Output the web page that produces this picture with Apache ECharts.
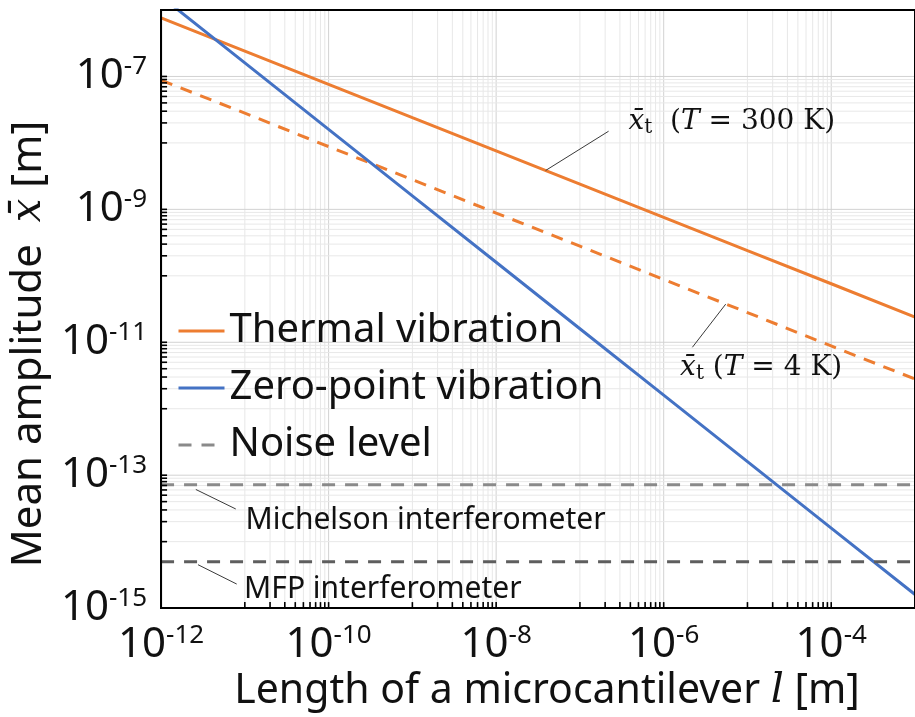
<!DOCTYPE html>
<html>
<head>
<meta charset="utf-8">
<script src="https://cdn.jsdelivr.net/npm/echarts@6/dist/echarts.min.js"></script>
<style>
  html, body { margin: 0; padding: 0; background: #fff; }
  #chart { width: 915px; height: 717px; }
</style>
</head>
<body>
<div id="chart"></div>
<script>
// Cantilever length l [m]
const lengths = [1e-12, 1e-11, 1e-10, 1e-9, 1e-8, 1e-7, 1e-6, 1e-5, 1e-4, 1e-3];
// Thermal vibration amplitude at T = 300 K [m]
const thermal300K = [7.6e-7, 2.4e-7, 7.6e-8, 2.4e-8, 7.6e-9, 2.4e-9, 7.6e-10, 2.4e-10, 7.6e-11, 2.4e-11];
// Thermal vibration amplitude at T = 4 K [m]
const thermal4K = [8.8e-8, 2.8e-8, 8.8e-9, 2.8e-9, 8.8e-10, 2.8e-10, 8.8e-11, 2.8e-11, 8.8e-12, 2.8e-12];
// Zero-point vibration amplitude [m]
const zeroPoint = [1.6e-6, 1.6e-7, 1.6e-8, 1.6e-9, 1.6e-10, 1.6e-11, 1.6e-12, 1.6e-13, 1.6e-14, 1.6e-15];
// Detector noise levels [m]
const noiseNames = ['Michelson interferometer', 'MFP interferometer'];
const noiseLevels = [7.2e-14, 5.0e-15];
const noiseColors = ['#8a8a8a', '#5e5e5e'];

// Axis ranges
const X_MIN = 1e-12, X_MAX = 1e-3;
const Y_MIN = 1e-15, Y_MAX = 1e-6;
// Decades carrying a labelled gridline
const xMajorExponents = [-12, -10, -8, -6, -4];
const yMajorExponents = [-15, -13, -11, -9, -7];

const ORANGE = '#ED7D31';
const BLUE = '#4472C4';
const SANS = '"Noto Sans", "Open Sans", sans-serif';
const SERIF = '"DejaVu Serif", "Liberation Serif", serif';

// Gridline / tick positions: each labelled decade 10^e plus k*10^(e+1), k = 1..9
function gridValues(exps, lo, hi) {
  const out = [];
  exps.forEach(e => {
    out.push({ v: Math.pow(10, e), major: 1 });
    for (let k = 1; k <= 9; k++) out.push({ v: k * Math.pow(10, e + 1), major: 0 });
  });
  return out.filter(d => d.v > lo * 1.0001 && d.v < hi * 0.9999 || (d.major && d.v >= lo && d.v < hi));
}
const xGrid = gridValues(xMajorExponents, X_MIN, X_MAX);
const yGrid = gridValues(yMajorExponents, Y_MIN, Y_MAX);
const gridData = []
  .concat(xGrid.map(d => [d.v, Y_MIN, 0, d.major]))
  .concat(yGrid.map(d => [X_MIN, d.v, 1, d.major]));

function renderGridLine(params, api) {
  const cs = params.coordSys;
  const vertical = api.value(2) === 0;
  const major = api.value(3) === 1;
  let shape;
  if (vertical) {
    const x = api.coord([api.value(0), Y_MIN])[0];
    shape = { x1: x, y1: cs.y, x2: x, y2: cs.y + cs.height };
  } else {
    const y = api.coord([X_MIN, api.value(1)])[1];
    shape = { x1: cs.x, y1: y, x2: cs.x + cs.width, y2: y };
  }
  return { type: 'line', shape, style: { stroke: major ? '#d2d2d2' : '#e8e8e8', lineWidth: 1 } };
}

function renderTick(params, api) {
  const cs = params.coordSys;
  const vertical = api.value(2) === 0;
  let shape;
  if (vertical) {
    const x = api.coord([api.value(0), Y_MIN])[0];
    const yb = cs.y + cs.height;
    shape = { x1: x, y1: yb, x2: x, y2: yb - 6 };
  } else {
    const y = api.coord([X_MIN, api.value(1)])[1];
    shape = { x1: cs.x, y1: y, x2: cs.x + 6, y2: y };
  }
  return { type: 'line', shape, style: { stroke: '#000', lineWidth: 1.6 } };
}

function powLabel(v) {
  const e = Math.round(Math.log10(v));
  return '{b|10}{s|' + e + '}';
}
const tickRich = {
  b: { fontFamily: SANS, fontSize: 42, color: '#111' },
  s: { fontFamily: SANS, fontSize: 26, color: '#111', padding: [0, 0, 20, 0] }
};
const mathRich = {
  x: { fontFamily: SERIF, fontStyle: 'italic', fontSize: 28, color: '#111' },
  t: { fontFamily: SERIF, fontSize: 20, color: '#111', padding: [13, 0, 0, 0] },
  n: { fontFamily: SERIF, fontSize: 28, color: '#111' }
};

const leader = { color: '#3a3a3a', width: 1, type: 'solid' };
function leaderLine(from, to) {
  return {
    silent: true, symbol: ['none', 'none'], label: { show: false },
    lineStyle: leader, emphasis: { disabled: true },
    data: [[{ coord: from }, { coord: to }]]
  };
}
function noteLabel(at, text, rich) {
  return {
    silent: true, symbol: 'circle', symbolSize: 0,
    itemStyle: { color: 'transparent' },
    label: { show: true, position: 'right', distance: 0, formatter: text, rich },
    data: [{ coord: at }]
  };
}
const noiseRich = { a: { fontFamily: SANS, fontSize: 30, color: '#111' } };

const series = [
  {
    name: 'grid', type: 'custom', coordinateSystem: 'cartesian2d', silent: true, z: 1,
    renderItem: renderGridLine, data: gridData, clip: false
  },
  {
    name: 'Thermal vibration', type: 'line', symbol: 'none', z: 2,
    lineStyle: { color: ORANGE, width: 3 }, itemStyle: { color: ORANGE },
    data: lengths.map((l, i) => [l, thermal300K[i]]),
    markLine: leaderLine([3.9e-8, 3.85e-9], [2.2e-7, 1.5e-8]),
    markPoint: noteLabel([3.8e-7, 2.1e-8], '{x|x̄}{t|t}{n|  (}{x|T}{n| = 300 K)}', mathRich)
  },
  {
    name: 'Thermal vibration (4 K)', type: 'line', symbol: 'none', z: 2,
    lineStyle: { color: ORANGE, width: 3, type: [12, 9] }, itemStyle: { color: ORANGE },
    data: lengths.map((l, i) => [l, thermal4K[i]]),
    markLine: leaderLine([5.5e-6, 3.75e-11], [2.2e-6, 8.4e-12]),
    markPoint: noteLabel([1.57e-6, 4.2e-12], '{x|x̄}{t|t}{n| (}{x|T}{n| = 4 K)}', mathRich)
  },
  {
    name: 'Zero-point vibration', type: 'line', symbol: 'none', z: 2,
    lineStyle: { color: BLUE, width: 3 }, itemStyle: { color: BLUE },
    data: lengths.map((l, i) => [l, zeroPoint[i]])
  }
];
const noteAnchors = [
  { from: [2.6e-12, 6.1e-14], to: [7.8e-12, 3.1e-14], at: [1.02e-11, 2.1e-14] },
  { from: [2.76e-12, 4.5e-15], to: [8.0e-12, 2.3e-15], at: [9.8e-12, 1.9e-15] }
];
noiseLevels.forEach((v, i) => {
  series.push({
    name: 'Noise level', type: 'line', symbol: 'none', z: 2,
    lineStyle: { color: noiseColors[i], width: 3, type: [13, 10] }, itemStyle: { color: noiseColors[i] },
    data: [[X_MIN, v], [X_MAX, v]],
    markLine: leaderLine(noteAnchors[i].from, noteAnchors[i].to),
    markPoint: noteLabel(noteAnchors[i].at, '{a|' + noiseNames[i] + '}', noiseRich)
  });
});
series.push({
  name: 'ticks', type: 'custom', coordinateSystem: 'cartesian2d', silent: true, z: 5,
  renderItem: renderTick, data: gridData, clip: false
});

const option = {
  animation: false,
  backgroundColor: '#fff',
  grid: { left: 159, top: 10, width: 764, height: 603, show: true, borderColor: '#000', borderWidth: 2, z: 4 },
  legend: {
    data: ['Thermal vibration', 'Zero-point vibration', 'Noise level'],
    orient: 'vertical', left: 172, top: 300,
    itemWidth: 46, itemHeight: 14, itemGap: 5,
    selectedMode: false,
    itemStyle: { opacity: 0, borderWidth: 0 },
    lineStyle: { width: 3 },
    textStyle: { fontFamily: SANS, fontSize: 40, color: '#111', lineHeight: 52 }
  },
  xAxis: {
    type: 'log', logBase: 100, min: X_MIN, max: X_MAX, interval: 1, z: 4,
    axisLine: { show: true, onZero: false, lineStyle: { color: '#000', width: 2 } },
    axisTick: { show: false }, splitLine: { show: false },
    axisLabel: { margin: 14, showMaxLabel: false, formatter: powLabel, rich: tickRich },
    name: '{n|Length of a microcantilever }{l|l}{n| [m]}',
    nameLocation: 'middle', nameGap: 58,
    nameTextStyle: {
      padding: [0, 0, 0, 18],
      rich: {
        n: { fontFamily: SANS, fontSize: 41, color: '#111' },
        l: { fontFamily: SERIF, fontStyle: 'italic', fontSize: 41, color: '#111' }
      }
    }
  },
  yAxis: {
    type: 'log', logBase: 100, min: Y_MIN, max: Y_MAX, interval: 1, z: 4,
    axisLine: { show: true, onZero: false, lineStyle: { color: '#000', width: 2 } },
    axisTick: { show: false }, splitLine: { show: false },
    axisLabel: { margin: 14, showMaxLabel: false, formatter: powLabel, rich: tickRich },
    name: '{n|Mean amplitude  }{x|x̄}{n| [m]}',
    nameLocation: 'middle', nameGap: 110,
    nameTextStyle: {
      padding: [0, 70, 0, 0],
      rich: {
        n: { fontFamily: SANS, fontSize: 42, color: '#111' },
        x: { fontFamily: SERIF, fontStyle: 'italic', fontSize: 42, color: '#111' }
      }
    }
  },
  series
};

const chart = echarts.init(document.getElementById('chart'), null, { renderer: 'canvas' });
chart.setOption(option);
</script>
</body>
</html>
